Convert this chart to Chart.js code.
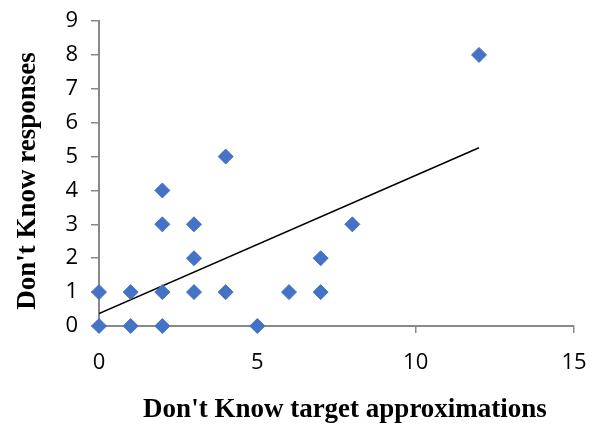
<!DOCTYPE html>
<html>
<head>
<meta charset="utf-8">
<script src="https://cdn.jsdelivr.net/npm/chart.js@4/dist/chart.umd.min.js"></script>
<style>
html,body{margin:0;padding:0;background:#fff;}
#wrap{width:597px;height:425px;position:relative;}
</style>
</head>
<body>
<div id="wrap"><canvas id="c" width="597" height="425"></canvas></div>
<script>
const xValues = [0, 1, 2, 5, 0, 1, 2, 3, 4, 6, 7, 3, 7, 2, 3, 8, 2, 4, 12];
const yValues = [0, 0, 0, 0, 1, 1, 1, 1, 1, 1, 1, 2, 2, 3, 3, 3, 4, 5, 8];
const trendX = [0, 12];
const trendY = [0.37, 5.26];
const xTitle = "Don't Know target approximations";
const yTitle = "Don't Know responses";

const points = xValues.map((x, i) => ({x: x, y: yValues[i]}));
const trend = trendX.map((x, i) => ({x: x, y: trendY[i]}));

const axisGray = '#898989';
const tickFont = {family: 'Open Sans', size: 22};

const titlePlugin = {
  id: 'axisTitles',
  afterDraw(chart) {
    const ctx = chart.ctx;
    ctx.save();
    ctx.fillStyle = '#000';
    ctx.font = 'bold 27px "Liberation Serif"';
    ctx.textAlign = 'center';
    ctx.textBaseline = 'middle';
    ctx.fillText(xTitle, 345, 410);
    ctx.translate(28, 181);
    ctx.rotate(-Math.PI / 2);
    ctx.fillText(yTitle, 0, 0);
    ctx.restore();
  }
};

new Chart(document.getElementById('c'), {
  type: 'scatter',
  data: {
    datasets: [
      {
        label: 'Data',
        data: points,
        pointStyle: 'rectRot',
        pointRadius: 7.5,
        pointHoverRadius: 7.5,
        backgroundColor: '#4472C4',
        borderColor: '#4472C4',
        borderWidth: 1,
        clip: false,
        order: 1
      },
      {
        label: 'Trend',
        type: 'line',
        data: trend,
        showLine: true,
        borderColor: '#000',
        borderWidth: 1.5,
        pointRadius: 0,
        fill: false,
        order: 2
      }
    ]
  },
  options: {
    responsive: false,
    animation: false,
    events: [],
    layout: {padding: {left: 0, right: 23, top: 21, bottom: 0}},
    plugins: {legend: {display: false}, tooltip: {enabled: false}},
    scales: {
      x: {
        type: 'linear',
        min: 0, max: 15,
        ticks: {stepSize: 5, color: '#000', font: tickFont, padding: 17, maxRotation: 0},
        grid: {drawOnChartArea: false, drawTicks: true, tickLength: 7, color: axisGray, lineWidth: 1.5},
        border: {display: true, color: axisGray, width: 2},
        afterFit(s) { s.height = 99; s.paddingRight = 0; s.paddingLeft = 0; }
      },
      y: {
        type: 'linear',
        min: 0, max: 9,
        ticks: {stepSize: 1, color: '#000', font: tickFont, padding: 13},
        grid: {drawOnChartArea: false, drawTicks: true, tickLength: 8, color: axisGray, lineWidth: 1.5},
        border: {display: true, color: axisGray, width: 2},
        afterFit(s) { s.width = 99; s.paddingTop = 0; s.paddingBottom = 0; }
      }
    }
  },
  plugins: [titlePlugin]
});
</script>
</body>
</html>
